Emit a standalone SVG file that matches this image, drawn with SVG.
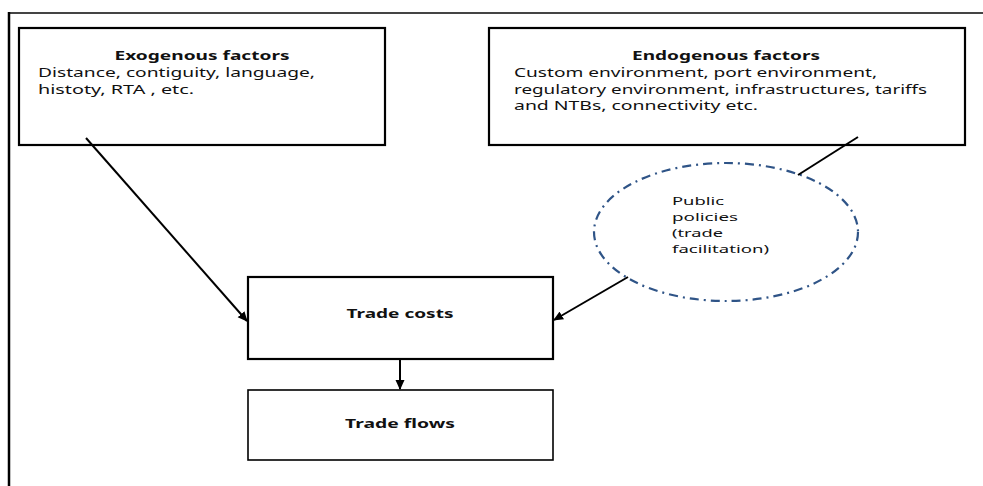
<svg xmlns="http://www.w3.org/2000/svg" width="983" height="486" viewBox="0 0 983 486">
  <style>
    .box { fill: #ffffff; stroke: #000000; stroke-width: 2.2; }
    .thin { stroke-width: 1.6; }
    .title { font-family: "Noto Sans", "Open Sans", "Liberation Sans", sans-serif; font-weight: bold; font-size: 13px; fill: #111111; }
    .body { font-family: "Noto Sans", "Open Sans", "Liberation Sans", sans-serif; font-size: 13px; fill: #111111; }
    .small { font-family: "Noto Sans", "Open Sans", "Liberation Sans", sans-serif; font-size: 11.5px; fill: #111111; }
    .link { stroke: #000000; stroke-width: 2; fill: none; }
  </style>
  <defs>
    <marker id="head" markerWidth="10" markerHeight="10" refX="9" refY="5" orient="auto" markerUnits="userSpaceOnUse">
      <path d="M0,0.5 L10,5 L0,9.5 Z" fill="#000000"/>
    </marker>
  </defs>

  <rect x="0" y="0" width="983" height="486" fill="#ffffff"/>

  <!-- outer frame -->
  <g id="frame">
    <line x1="8" y1="13" x2="983" y2="13" stroke="#444444" stroke-width="2"/>
    <line x1="9" y1="12" x2="9" y2="486" stroke="#000000" stroke-width="2.5"/>
  </g>

  <g id="exogenous">
    <rect class="box" x="19" y="28" width="366" height="117"/>
    <text class="title" x="202" y="60" text-anchor="middle" textLength="175" lengthAdjust="spacingAndGlyphs">Exogenous factors</text>
    <text class="body" x="38" y="77" textLength="277" lengthAdjust="spacingAndGlyphs">Distance, contiguity, language,</text>
    <text class="body" x="38" y="93.5" textLength="156" lengthAdjust="spacingAndGlyphs">histoty, RTA , etc.</text>
  </g>

  <g id="endogenous">
    <rect class="box" x="489" y="28" width="476" height="117"/>
    <text class="title" x="726" y="60" text-anchor="middle" textLength="188" lengthAdjust="spacingAndGlyphs">Endogenous factors</text>
    <text class="body" x="514" y="77" textLength="363" lengthAdjust="spacingAndGlyphs">Custom environment, port environment,</text>
    <text class="body" x="514" y="93.5" textLength="413" lengthAdjust="spacingAndGlyphs">regulatory environment, infrastructures, tariffs</text>
    <text class="body" x="514" y="110" textLength="244" lengthAdjust="spacingAndGlyphs">and NTBs, connectivity etc.</text>
  </g>

  <g id="policies">
    <ellipse cx="726" cy="232" rx="132" ry="69" fill="none" stroke="#2f5487" stroke-width="2.2" stroke-dasharray="9 5 2 5"/>
    <text class="small" x="672" y="205" textLength="52" lengthAdjust="spacingAndGlyphs">Public</text>
    <text class="small" x="672" y="221" textLength="66" lengthAdjust="spacingAndGlyphs">policies</text>
    <text class="small" x="672" y="237" textLength="51" lengthAdjust="spacingAndGlyphs">(trade</text>
    <text class="small" x="672" y="253" textLength="97" lengthAdjust="spacingAndGlyphs">facilitation)</text>
  </g>

  <g id="trade-costs">
    <rect class="box" x="248" y="277" width="305" height="82" stroke-width="2.6"/>
    <text class="title" x="400" y="318" text-anchor="middle" textLength="107" lengthAdjust="spacingAndGlyphs">Trade costs</text>
  </g>

  <g id="trade-flows">
    <rect class="box thin" x="248" y="390" width="305" height="70"/>
    <text class="title" x="400" y="428" text-anchor="middle" textLength="110" lengthAdjust="spacingAndGlyphs">Trade flows</text>
  </g>

  <g id="connectors">
    <line class="link" x1="86" y1="138" x2="247" y2="321" marker-end="url(#head)"/>
    <line class="link" x1="858" y1="137" x2="798" y2="175"/>
    <line class="link" x1="628" y1="277" x2="554" y2="320" marker-end="url(#head)"/>
    <line class="link" x1="400" y1="360" x2="400" y2="389" stroke-width="3" marker-end="url(#head)"/>
  </g>
</svg>
